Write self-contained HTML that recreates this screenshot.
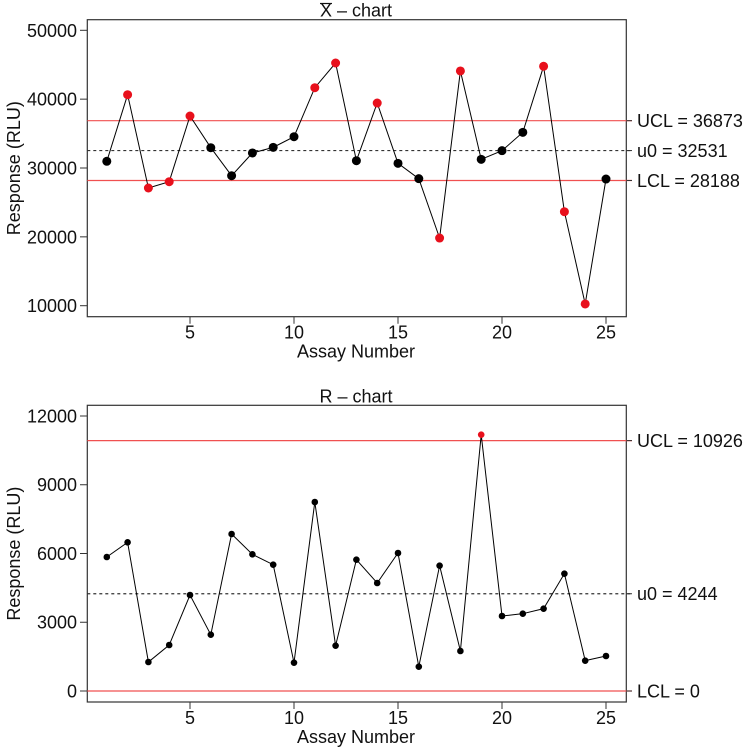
<!DOCTYPE html>
<html><head><meta charset="utf-8"><style>
body{margin:0;background:#fff}
svg text{font-family:"Liberation Sans",Arial,sans-serif;fill:#111}
</style></head><body>
<svg id="c" width="745" height="748" xmlns="http://www.w3.org/2000/svg"></svg>
<script>
const assays=[1,2,3,4,5,6,7,8,9,10,11,12,13,14,15,16,17,18,19,20,21,22,23,24,25];
const xbarValues=[30973,40647,27095,28010,37553,32950,28880,32180,33000,34546,41660,45250,31060,39440,30680,28450,19830,44090,31260,32520,35180,44770,23650,10250,28400];
const rangeValues=[5847,6487,1265,2007,4189,2458,6851,5963,5513,1236,8247,1978,5731,4713,6022,1062,5469,1745,11185,3273,3374,3593,5120,1324,1527];
const xTicks=[5,10,15,20,25];
const xbarTicks=[10000,20000,30000,40000,50000];
const rangeTicks=[0,3000,6000,9000,12000];
const xbarLimits=[36873,32531,28188];
const rangeLimits=[10926,4244,0];

const svg=document.getElementById('c');
const NS='http://www.w3.org/2000/svg';
function mk(tag,attrs,parent,name,txt){
  const e=document.createElementNS(NS,tag);
  for(const k in attrs)e.setAttribute(k,attrs[k]);
  
  
  if(txt!==undefined)e.textContent=txt;
  (parent||svg).appendChild(e);return e;
}
const X=v=>106.8+(v-1)*20.8;
const FS=18;
function panel(p){
  const g=mk('g',{},svg,p.name);
  const Y=p.Y;
  mk('rect',{x:87.3,y:p.top,width:539,height:p.bottom-p.top,fill:'none',stroke:'#333','stroke-width':1.2},g,'plot-frame');
  mk('text',{x:356,y:p.top-3,'text-anchor':'middle','font-size':FS},g,'chart-title',p.title);
  if(p.bar) mk('line',{x1:320,x2:332,y1:3.5,y2:3.5,stroke:'#111','stroke-width':1.2},g,'title-overline');
  p.yt.forEach(t=>{
    mk('line',{x1:80,x2:87.3,y1:Y(t),y2:Y(t),stroke:'#333'},g,'y-tick');
    mk('text',{x:77,y:Y(t)+6.5,'text-anchor':'end','font-size':FS},g,'y-tick-label',String(t));
  });
  xTicks.forEach(t=>{
    mk('line',{x1:X(t),x2:X(t),y1:p.bottom,y2:p.bottom+7,stroke:'#333'},g,'x-tick');
    mk('text',{x:X(t),y:p.bottom+22,'text-anchor':'middle','font-size':FS},g,'x-tick-label',String(t));
  });
  mk('text',{x:356,y:p.bottom+41,'text-anchor':'middle','font-size':FS},g,'x-axis-title','Assay Number');
  mk('text',{x:0,y:0,'text-anchor':'middle','font-size':FS,transform:`translate(20,${(p.top+p.bottom)/2}) rotate(-90)`},g,'y-axis-title','Response (RLU)');
  const labels=p.labels;
  p.lim.forEach((v,i)=>{
    const red=i!==1;
    mk('line',{x1:87.3,x2:632,y1:Y(v),y2:Y(v),stroke:red?'#f05050':'#333','stroke-width':1.2,'stroke-dasharray':red?'':'3,3'},g,red?'control-limit-line':'center-line');
    mk('line',{x1:626.3,x2:632,y1:Y(v),y2:Y(v),stroke:'#333'},g,'limit-tick');
    mk('text',{x:637,y:Y(v)+6.5,'font-size':FS},g,'limit-label',labels[i]+' = '+v);
  });
  const pts=assays.map((a,i)=>X(a)+','+Y(p.vals[i])).join(' ');
  mk('polyline',{points:pts,fill:'none',stroke:'#000','stroke-width':1},g,'series-line');
  assays.forEach((a,i)=>{
    const v=p.vals[i];
    const out=v>p.lim[0]||v<p.lim[2];
    mk('circle',{cx:X(a),cy:Y(p.vals[i]),r:p.r,fill:out?'#e8101c':'#000'},g,'data-point');
  });
}
panel({name:'xbar-chart',title:'X \u2013 chart',bar:true,top:19.7,bottom:316.7,Y:v=>305.7-(v-10000)*0.006885,yt:xbarTicks,vals:xbarValues,lim:xbarLimits,labels:['UCL','u0','LCL'],r:4.5});
panel({name:'r-chart',title:'R \u2013 chart',top:405.3,bottom:702,Y:v=>691-v*0.022917,yt:rangeTicks,vals:rangeValues,lim:rangeLimits,labels:['UCL','u0','LCL'],r:3.3});
</script>
</body></html>
